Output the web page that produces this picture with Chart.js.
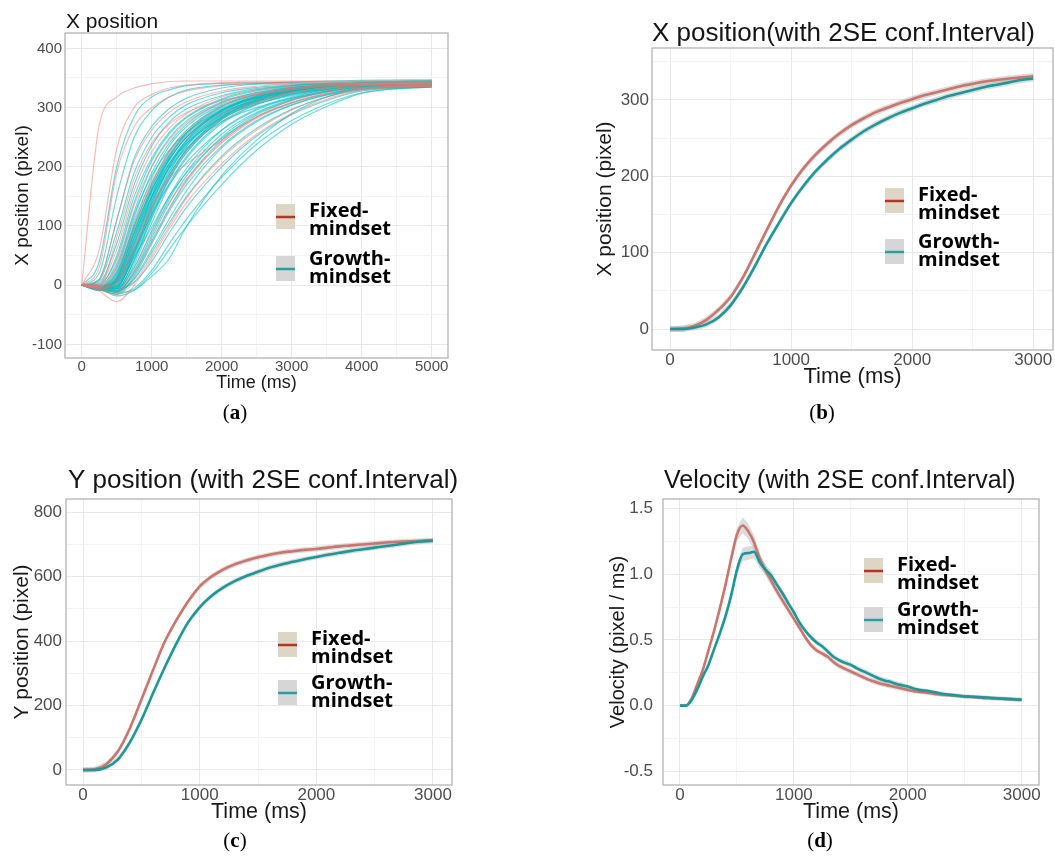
<!DOCTYPE html>
<html lang="en">
<head>
<meta charset="UTF-8">
<title>Mouse trajectories: fixed vs growth mindset</title>
<script src="https://cdn.jsdelivr.net/npm/chart.js"></script>
<style>
  body { margin: 0; background: #fff; }
  #wrap { position: relative; width: 1055px; height: 859px; overflow: hidden; }
  #wrap canvas { position: absolute; left: 0; top: 0; }
  .cap { position: absolute; font-family: "Liberation Serif", "DejaVu Serif", serif; font-size: 21px; color: #000;
         line-height: 24px; transform: translateX(-50%); white-space: nowrap; }
</style>
</head>
<body>
<div id="wrap">
  <canvas id="chartA" width="1055" height="859"></canvas>
  <canvas id="chartB" width="1055" height="859"></canvas>
  <canvas id="chartC" width="1055" height="859"></canvas>
  <canvas id="chartD" width="1055" height="859"></canvas>
  <div class="cap" style="left:235px;top:400px">(<b>a</b>)</div>
  <div class="cap" style="left:822px;top:400px">(<b>b</b>)</div>
  <div class="cap" style="left:235px;top:828px">(<b>c</b>)</div>
  <div class="cap" style="left:820px;top:828px">(<b>d</b>)</div>
</div>

<script>
    // ---- (a) single trials, x position sampled at these times (ms)
    const trialTimes = [0, 250, 500, 750, 1000, 1250, 1500, 2000, 2500, 3000, 3500, 4000, 5000];
    const fixedTrials = [
        [0, 270, 318, 333, 340, 344, 345, 345, 345, 345, 345, 345, 345],
        [0, 60, 230, 300, 322, 333, 338, 342, 343, 343, 343, 343, 343],
        [0, 10, 110, 210, 262, 292, 310, 328, 336, 340, 341, 341, 341],
        [0, 3, 60, 160, 225, 265, 290, 318, 330, 336, 339, 340, 340],
        [0, -2, 15, 95, 170, 226, 262, 302, 321, 332, 337, 339, 339],
        [0, -3, 2, 60, 128, 185, 228, 280, 308, 325, 333, 337, 337],
        [0, -4, -8, 30, 90, 140, 180, 240, 282, 308, 324, 333, 336],
        [0, -10, -28, 0, 45, 95, 140, 205, 255, 290, 314, 329, 336],
        [0, 0, 80, 180, 240, 272, 292, 312, 322, 330, 336, 340, 342],
        [0, -2, 30, 110, 175, 220, 252, 290, 312, 326, 334, 339, 341],
        [0, -5, 5, 70, 135, 180, 205, 245, 285, 312, 328, 337, 340],
        [0, 30, 190, 268, 300, 318, 328, 337, 341, 343, 344, 344, 344],
        [0, -3, 40, 135, 200, 245, 275, 308, 324, 333, 338, 341, 342],
        [0, -6, -12, 18, 72, 128, 175, 242, 284, 309, 324, 333, 337],
        [0, -8, -15, 5, 50, 100, 148, 215, 262, 296, 318, 331, 337]
    ];
    const growthTrials = [
        [0, 40, 200, 285, 318, 330, 337, 341, 342, 342, 342, 342, 342],
        [0, 20, 150, 250, 295, 318, 330, 338, 340, 340, 340, 340, 340],
        [0, 8, 90, 190, 250, 284, 305, 325, 334, 338, 340, 340, 340],
        [0, 5, 70, 170, 235, 275, 298, 320, 332, 337, 339, 340, 340],
        [0, 2, 45, 140, 210, 255, 283, 313, 328, 335, 338, 339, 339],
        [0, 0, 35, 125, 200, 248, 278, 310, 326, 334, 337, 338, 338],
        [0, -3, 20, 105, 180, 235, 268, 305, 323, 333, 337, 338, 338],
        [0, -5, 10, 90, 165, 222, 258, 300, 320, 331, 336, 338, 338],
        [0, -6, 5, 75, 150, 210, 250, 295, 318, 330, 336, 339, 339],
        [0, -4, 0, 65, 140, 200, 242, 290, 315, 328, 335, 338, 338],
        [0, -8, -5, 55, 130, 190, 235, 285, 312, 327, 334, 337, 337],
        [0, -5, -8, 45, 118, 180, 225, 280, 309, 325, 333, 337, 337],
        [0, -7, -10, 35, 105, 168, 215, 273, 305, 322, 332, 336, 336],
        [0, -2, 8, 80, 155, 205, 240, 283, 306, 320, 330, 336, 336],
        [0, -4, 12, 85, 150, 198, 232, 276, 300, 316, 328, 334, 336],
        [0, -6, -12, 25, 85, 145, 192, 255, 292, 314, 327, 334, 336],
        [0, -8, -15, 15, 70, 125, 170, 235, 278, 305, 322, 332, 335],
        [0, -5, -10, 10, 55, 105, 150, 218, 265, 297, 318, 330, 335],
        [0, -3, -6, 5, 40, 88, 132, 200, 252, 288, 312, 328, 335],
        [0, -6, -15, -5, 25, 70, 112, 182, 238, 278, 306, 325, 335],
        [0, -4, -12, -8, 15, 45, 100, 185, 245, 290, 318, 333, 338],
        [0, -5, -18, -8, 20, 60, 100, 170, 228, 272, 302, 324, 336],
        [0, -2, 25, 115, 190, 240, 272, 308, 325, 334, 338, 340, 341],
        [0, -3, 15, 100, 172, 226, 262, 303, 322, 332, 337, 340, 340],
        [0, -6, 2, 70, 145, 205, 246, 293, 317, 330, 337, 341, 342],
        [0, -4, 6, 62, 138, 196, 238, 288, 314, 329, 337, 342, 344],
        [0, -9, -4, 50, 125, 186, 230, 283, 311, 327, 336, 341, 343],
        [0, -5, 18, 95, 160, 212, 250, 296, 320, 332, 338, 342, 346],
        [0, 10, 110, 215, 268, 298, 316, 333, 340, 343, 345, 346, 347],
        [0, -3, 30, 120, 185, 228, 258, 296, 316, 327, 334, 339, 343],
        [0, -7, -6, 40, 112, 172, 218, 276, 306, 322, 331, 337, 341],
        [0, -4, 4, 58, 120, 170, 208, 262, 296, 316, 328, 336, 340],
        [0, 0, 50, 150, 215, 258, 285, 315, 330, 337, 341, 344, 345],
        [0, -5, -2, 48, 98, 150, 190, 248, 284, 308, 323, 333, 339],
        [0, -3, 10, 78, 148, 205, 244, 290, 314, 328, 336, 340, 342],
        [0, -6, 0, 60, 132, 192, 236, 286, 312, 327, 335, 339, 341],
        [0, -5, 6, 72, 142, 200, 240, 288, 313, 328, 336, 340, 341],
        [0, -2, 14, 88, 158, 212, 250, 294, 316, 329, 336, 339, 340],
        [0, -7, -4, 52, 122, 182, 228, 282, 310, 326, 334, 338, 339],
        [0, -4, 22, 100, 168, 218, 254, 296, 318, 330, 337, 340, 343],
        [0, -5, 3, 68, 150, 215, 258, 302, 322, 333, 339, 342, 344],
        [0, -6, -2, 55, 135, 200, 245, 295, 319, 331, 338, 342, 345],
        [0, -4, 8, 82, 160, 218, 256, 298, 318, 329, 335, 338, 339],
        [0, -8, -6, 42, 115, 178, 224, 280, 308, 324, 333, 338, 340],
        [0, -3, 12, 90, 162, 214, 250, 292, 312, 323, 331, 336, 338],
        [0, -5, -3, 58, 128, 186, 230, 284, 311, 326, 334, 339, 341],
        [0, -6, -10, 20, 75, 130, 178, 245, 288, 312, 326, 334, 338],
        [0, -4, -6, 30, 92, 150, 198, 262, 298, 318, 330, 336, 339],
        [0, -7, -12, 12, 60, 112, 160, 232, 276, 304, 321, 331, 337],
        [0, -5, -9, 22, 80, 138, 185, 250, 290, 313, 327, 335, 339]
    ];

    // ---- (b) (c) group means every 100 ms
    const meanTimes = [0, 100, 200, 300, 400, 500, 600, 700, 800, 900, 1000, 1100, 1200, 1300, 1400, 1500,
        1600, 1700, 1800, 1900, 2000, 2100, 2200, 2300, 2400, 2500, 2600, 2700, 2800, 2900, 3000];
    const xFixed = [0, 0.5, 4, 12, 25, 42, 67, 98, 130, 161, 188, 210, 228, 243, 256, 267,
        276, 284, 290, 296, 301, 306, 310, 314, 318, 321, 324, 326, 328, 329.5, 331];
    const xGrowth = [0, 0, 2, 6, 15, 31, 54, 82, 112, 139, 165, 187, 206, 222, 236, 248,
        259, 268, 276, 283, 289, 295, 300, 305, 309, 313, 317, 320, 323, 326, 328];
    const xSE = 4;
    const yFixed = [0, 2, 18, 58, 128, 218, 310, 398, 465, 523, 570, 600, 622, 638, 650, 660,
        668, 675, 679, 683, 686, 690, 694, 697, 700, 703, 706, 708, 710, 711, 712];
    const yGrowth = [0, 0, 8, 33, 85, 155, 238, 318, 392, 458, 505, 540, 566, 586, 602, 615,
        628, 638, 646, 654, 661, 668, 674, 680, 685, 690, 695, 700, 705, 709, 712];
    const ySE = 8;

    // ---- (d) velocity every 50 ms
    const velTimes = [0, 50, 100, 150, 200, 250, 300, 350, 400, 450, 500, 550, 600, 650, 700, 750, 800, 850, 900, 950,
        1000, 1050, 1100, 1150, 1200, 1250, 1300, 1350, 1400, 1450, 1500, 1550, 1600, 1650, 1700, 1750, 1800, 1850, 1900, 1950,
        2000, 2050, 2100, 2150, 2200, 2250, 2300, 2350, 2400, 2450, 2500, 2550, 2600, 2650, 2700, 2750, 2800, 2850, 2900, 2950, 3000];
    const velFixed = [0, 0, 0.05, 0.16, 0.27, 0.42, 0.57, 0.74, 0.92, 1.12, 1.30, 1.37, 1.325, 1.24, 1.12, 1.03, 0.95, 0.87, 0.80, 0.73,
        0.66, 0.59, 0.52, 0.46, 0.42, 0.395, 0.37, 0.33, 0.30, 0.28, 0.26, 0.24, 0.22, 0.20, 0.185, 0.17, 0.16, 0.15, 0.14, 0.13,
        0.12, 0.11, 0.105, 0.10, 0.095, 0.088, 0.083, 0.08, 0.077, 0.073, 0.07, 0.068, 0.065, 0.06, 0.056, 0.055, 0.053, 0.052, 0.05, 0.047, 0.045];
    const velGrowth = [0, 0, 0.04, 0.12, 0.22, 0.31, 0.43, 0.55, 0.68, 0.84, 1.03, 1.15, 1.16, 1.17, 1.09, 1.035, 0.99, 0.92, 0.855, 0.78,
        0.71, 0.63, 0.57, 0.52, 0.48, 0.45, 0.41, 0.37, 0.345, 0.325, 0.31, 0.285, 0.265, 0.245, 0.225, 0.205, 0.19, 0.18, 0.165, 0.155,
        0.145, 0.13, 0.12, 0.115, 0.108, 0.10, 0.09, 0.085, 0.08, 0.075, 0.07, 0.068, 0.066, 0.064, 0.062, 0.058, 0.055, 0.052, 0.05, 0.047, 0.045];
    const velSEFixed = [0, 0, 0.01, 0.015, 0.02, 0.02, 0.025, 0.03, 0.035, 0.04, 0.05, 0.06, 0.06, 0.055, 0.045, 0.04, 0.035, 0.03, 0.03, 0.025,
        0.02, 0.02, 0.02, 0.02, 0.02, 0.02, 0.02, 0.02, 0.02, 0.02, 0.02, 0.02, 0.02, 0.02, 0.02, 0.02, 0.02, 0.02, 0.02, 0.02,
        0.015, 0.015, 0.015, 0.015, 0.015, 0.015, 0.015, 0.015, 0.015, 0.015, 0.015, 0.015, 0.015, 0.015, 0.015, 0.015, 0.015, 0.015, 0.015, 0.015, 0.015];
    const velSEGrowth = [0, 0, 0.01, 0.015, 0.02, 0.02, 0.025, 0.03, 0.035, 0.04, 0.045, 0.05, 0.05, 0.05, 0.045, 0.04, 0.035, 0.03, 0.03, 0.025,
        0.02, 0.02, 0.02, 0.02, 0.02, 0.02, 0.02, 0.02, 0.02, 0.02, 0.02, 0.02, 0.02, 0.02, 0.02, 0.02, 0.02, 0.02, 0.02, 0.02,
        0.015, 0.015, 0.015, 0.015, 0.015, 0.015, 0.015, 0.015, 0.015, 0.015, 0.015, 0.015, 0.015, 0.015, 0.015, 0.015, 0.015, 0.015, 0.015, 0.015, 0.015];

    const FONT = '"Liberation Sans", Arial, sans-serif';
    const LEG_FONT = 'bold 20px "Open Sans", "Noto Sans", sans-serif';
    const RED = 'rgb(204,117,108)';
    const TEAL = 'rgb(28,152,154)';

    function isMajor(v, major) {
        let r = v / major;
        return Math.abs(r - Math.round(r)) < 1e-6;
    }

    // major + minor grid positions (chart.js would otherwise spread them from min)
    function stepTicks(ax) {
        return function (scale) {
            let out = [];
            for (let k = Math.ceil(ax.min / ax.step - 1e-9); k * ax.step <= ax.max + 1e-9; k++) {
                out.push({ value: Math.round(k * ax.step * 1e6) / 1e6 });
            }
            scale.ticks = out;
        };
    }

    // border, title and the mindset key, drawn in page coordinates
    function decor(p) {
        return {
            id: 'decor',
            afterDraw(chart) {
                let ctx = chart.ctx, a = chart.chartArea;
                ctx.save();
                ctx.strokeStyle = '#b3b3b3';
                ctx.lineWidth = 1.3;
                ctx.strokeRect(a.left, a.top, a.right - a.left, a.bottom - a.top);

                ctx.fillStyle = '#151515';
                ctx.font = p.title.size + 'px ' + FONT;
                ctx.textBaseline = 'middle';
                ctx.fillText(p.title.text, p.title.x, p.title.y);

                let k = p.key;
                let keys = [
                    { top: k.fTop, fill: '#ddd6c4', line: '#b8322a', words: ['Fixed-', 'mindset'], b: 13 },
                    { top: k.gTop, fill: '#d6d6d6', line: '#2a9fa2', words: ['Growth-', 'mindset'], b: 9 }
                ];
                keys.forEach(function (g) {
                    ctx.fillStyle = g.fill;
                    ctx.fillRect(k.x, g.top, 19, 25);
                    ctx.strokeStyle = g.line;
                    ctx.lineWidth = 2.5;
                    ctx.beginPath();
                    ctx.moveTo(k.x, g.top + 13);
                    ctx.lineTo(k.x + 19, g.top + 13);
                    ctx.stroke();
                    ctx.fillStyle = '#000';
                    ctx.font = LEG_FONT;
                    ctx.textBaseline = 'alphabetic';
                    ctx.fillText(g.words[0], k.x + 33, g.top + g.b);
                    ctx.fillText(g.words[1], k.x + 33, g.top + g.b + 18);
                });
                ctx.restore();
            }
        };
    }

    function gridColor(ctx, major) {
        return isMajor(ctx.tick.value, major) ? '#e8e8e8' : '#f3f3f3';
    }

    function makePanel(id, p, datasets) {
        const W = 1055, H = 859;
        let yW = p.plot.l - (p.yTitle.cx - p.yTitle.size / 2);
        let xH = (p.xTitle.cy + p.xTitle.size / 2) - p.plot.b;
        let tickFont = { family: FONT, size: p.tick, lineHeight: 1 };
        return new Chart(document.getElementById(id), {
            type: 'line',
            data: { datasets: datasets },
            options: {
                responsive: false,
                animation: false,
                events: [],
                layout: { padding: { left: p.plot.l - yW, top: p.plot.t, right: W - p.plot.r, bottom: H - p.plot.b - xH } },
                plugins: { legend: { display: false }, tooltip: { enabled: false } },
                elements: { point: { radius: 0 } },
                scales: {
                    x: {
                        type: 'linear', min: p.x.min, max: p.x.max,
                        grid: { drawTicks: false, color: c => gridColor(c, p.x.major) },
                        border: { display: false },
                        ticks: {
                            autoSkip: false, maxRotation: 0,
                            padding: p.x.pad, color: '#4d4d4d', font: tickFont,
                            callback: v => isMajor(v, p.x.major) ? String(Math.round(v)) : ''
                        },
                        afterBuildTicks: stepTicks(p.x),
                        title: { display: true, text: 'Time (ms)', color: '#1a1a1a', padding: 0,
                                 font: { family: FONT, size: p.xTitle.size, lineHeight: 1 } },
                        afterFit: s => { s.height = xH; s.paddingLeft = 0; s.paddingRight = 0; }
                    },
                    y: {
                        type: 'linear', min: p.y.min, max: p.y.max,
                        grid: { drawTicks: false, color: c => gridColor(c, p.y.major) },
                        border: { display: false },
                        ticks: {
                            autoSkip: false,
                            padding: p.y.pad, color: '#4d4d4d', font: tickFont,
                            callback: v => isMajor(v, p.y.major) ? p.y.fmt(v) : ''
                        },
                        afterBuildTicks: stepTicks(p.y),
                        title: { display: true, text: p.yTitle.text, color: '#1a1a1a', padding: 0,
                                 font: { family: FONT, size: p.yTitle.size, lineHeight: 1 } },
                        afterFit: s => { s.width = yW; s.paddingTop = 0; s.paddingBottom = 0; }
                    }
                }
            },
            plugins: [decor(p)]
        });
    }

    function trialSets(rows, color) {
        return rows.map(r => ({
            data: trialTimes.map((t, i) => ({ x: t, y: r[i] })),
            borderColor: color, borderWidth: 1.15, cubicInterpolationMode: 'monotone', fill: false
        }));
    }

    function meanSets(times, fixed, growth, seF, seG) {
        let se = (s, i) => Array.isArray(s) ? s[i] : s;
        let pts = (arr, s, sign) => times.map((t, i) => ({ x: t, y: arr[i] + sign * se(s, i) }));
        let band = 'rgba(175,175,175,0.45)';
        return [
            { data: pts(fixed, seF, -1), borderWidth: 0, fill: false, order: 3 },
            { data: pts(fixed, seF, 1), borderWidth: 0, fill: '-1', backgroundColor: band, order: 3 },
            { data: pts(growth, seG, -1), borderWidth: 0, fill: false, order: 2 },
            { data: pts(growth, seG, 1), borderWidth: 0, fill: '-1', backgroundColor: band, order: 2 },
            { data: pts(fixed, 0, 0), borderColor: RED, borderWidth: 2.6, fill: false, order: 1, cubicInterpolationMode: 'monotone' },
            { data: pts(growth, 0, 0), borderColor: TEAL, borderWidth: 2.6, fill: false, order: 0, cubicInterpolationMode: 'monotone' }
        ];
    }

    const intFmt = v => String(Math.round(v));

    makePanel('chartA', {
        plot: { l: 65, t: 33, r: 448, b: 358 },
        x: { min: -239, max: 5233, step: 500, major: 1000, pad: 1.5 },
        y: { min: -123, max: 426, step: 50, major: 100, pad: 3, fmt: intFmt },
        tick: 15,
        title: { text: 'X position', x: 66, y: 22, size: 21 },
        yTitle: { text: 'X position (pixel)', cx: 23, size: 19 },
        xTitle: { cy: 383, size: 18 },
        key: { x: 276, fTop: 204, gTop: 256 }
    }, trialSets(fixedTrials, 'rgba(240,120,112,0.5)').concat(trialSets(growthTrials, 'rgba(0,188,194,0.58)')));

    makePanel('chartB', {
        plot: { l: 652, t: 48, r: 1053, b: 350 },
        x: { min: -149, max: 3163, step: 500, major: 1000, pad: 1.5 },
        y: { min: -27.5, max: 368, step: 50, major: 100, pad: 3, fmt: intFmt },
        tick: 17,
        title: { text: 'X position(with 2SE conf.Interval)', x: 652, y: 34, size: 26 },
        yTitle: { text: 'X position (pixel)', cx: 605, size: 21 },
        xTitle: { cy: 377, size: 22 },
        key: { x: 885, fTop: 188, gTop: 239 }
    }, meanSets(meanTimes, xFixed, xGrowth, xSE, xSE));

    makePanel('chartC', {
        plot: { l: 66, t: 499, r: 452, b: 785 },
        x: { min: -146, max: 3163, step: 500, major: 1000, pad: 1.5 },
        y: { min: -46.6, max: 841, step: 100, major: 200, pad: 4, fmt: intFmt },
        tick: 17,
        title: { text: 'Y position (with 2SE conf.Interval)', x: 68, y: 481, size: 26 },
        yTitle: { text: 'Y position (pixel)', cx: 22, size: 21 },
        xTitle: { cy: 812, size: 21.5 },
        key: { x: 278, fTop: 632, gTop: 680 }
    }, meanSets(meanTimes, yFixed, yGrowth, ySE, ySE));

    makePanel('chartD', {
        plot: { l: 663, t: 499, r: 1039, b: 785 },
        x: { min: -149, max: 3152, step: 500, major: 1000, pad: 1.5 },
        y: { min: -0.603, max: 1.571, step: 0.25, major: 0.5, pad: 10, fmt: v => v.toFixed(1) },
        tick: 17,
        title: { text: 'Velocity (with 2SE conf.Interval)', x: 664, y: 481, size: 25 },
        yTitle: { text: 'Velocity (pixel / ms)', cx: 618, size: 20 },
        xTitle: { cy: 812, size: 21.5 },
        key: { x: 864, fTop: 558, gTop: 607 }
    }, meanSets(velTimes, velFixed, velGrowth, velSEFixed, velSEGrowth));
</script>
</body>
</html>
